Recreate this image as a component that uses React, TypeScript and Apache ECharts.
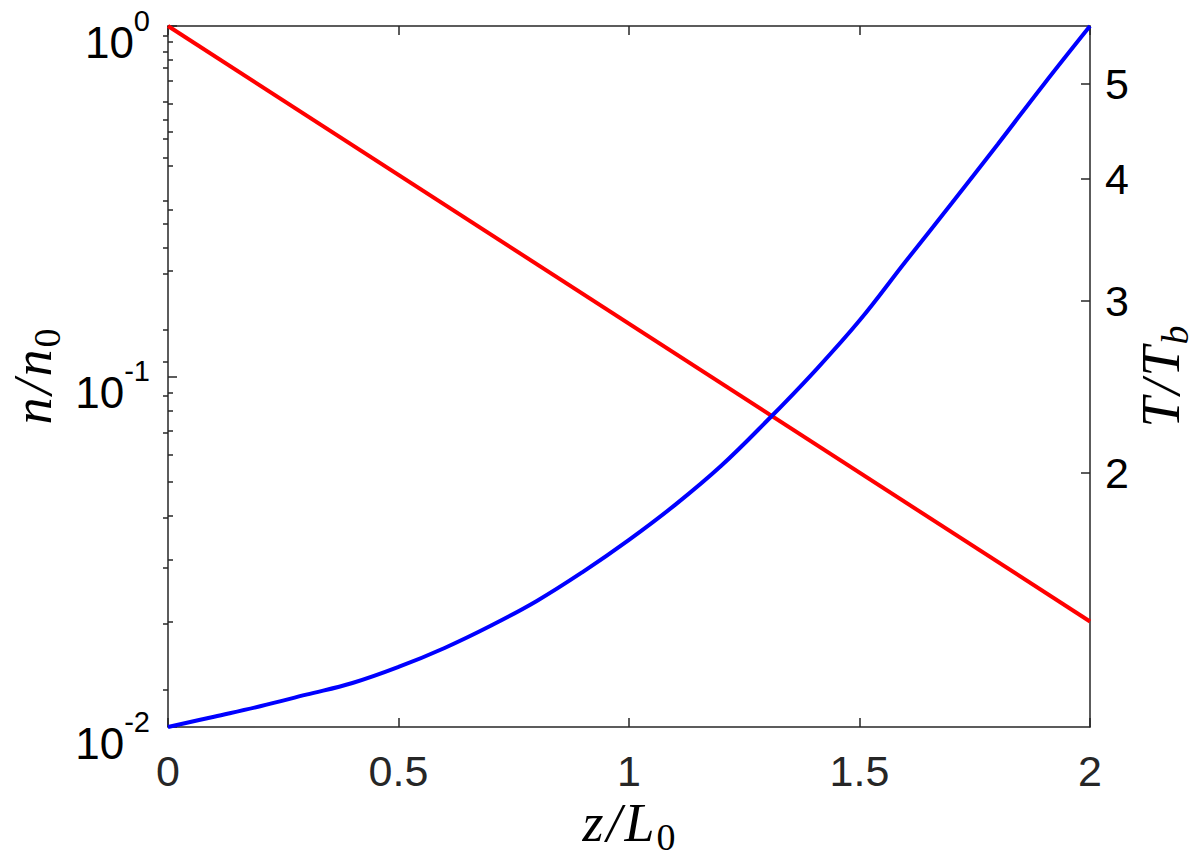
import React, { useEffect, useRef } from "react";
import * as echarts from "echarts";

// ---- data ----
const zTicks = [0, 0.5, 1, 1.5, 2];
const densityZ = [0, 2];
const densityN = [1, 0.02];
const tempZ = [0, 0.1, 0.2, 0.3, 0.4, 0.5, 0.6, 0.7, 0.8, 0.9, 1.0, 1.1, 1.2, 1.3, 1.4, 1.5, 1.6, 1.7, 1.8, 1.9, 2.0];
const tempT = [1.098, 1.125, 1.153, 1.185, 1.218, 1.265, 1.323, 1.394, 1.478, 1.583, 1.707, 1.854, 2.033, 2.262, 2.533, 2.863, 3.291, 3.775, 4.34, 5.0, 5.735];
const nMajorTicks = [0.01, 0.1, 1];
const nMinorTicks = [0.02, 0.03, 0.04, 0.05, 0.06, 0.07, 0.08, 0.09, 0.2, 0.3, 0.4, 0.5, 0.6, 0.7, 0.8, 0.9];
const tMajorTicks = [2, 3, 4, 5];
const tMinorTicks = [1.2, 1.4, 1.6, 1.8, 2.2, 2.4, 2.6, 2.8, 3.2, 3.4, 3.6, 3.8, 4.2, 4.4, 4.6, 4.8, 5.2, 5.4, 5.6];
const nRange = [0.01, 1];
const tRange = [1.098, 5.735];
const zRange = [0, 2];

const AX = "#262626";
const SANS = "'Liberation Sans', Arial, Helvetica, sans-serif";
const SERIF = "'Liberation Serif', 'Times New Roman', serif";

const lineStyle = { color: AX, width: 1.5 };

const nameRich = {
  i: { fontFamily: SERIF, fontStyle: "italic", fontSize: 54, lineHeight: 60, verticalAlign: "top", color: "#000" },
  s: { fontFamily: SERIF, fontStyle: "italic", fontSize: 54, lineHeight: 60, verticalAlign: "top", color: "#000", padding: [0, 3, 0, 3] },
  sub: { fontFamily: SERIF, fontSize: 38, lineHeight: 38, verticalAlign: "bottom", color: "#000", padding: [0, 0, 0, 2] },
  subi: { fontFamily: SERIF, fontStyle: "italic", fontSize: 38, lineHeight: 38, verticalAlign: "bottom", color: "#000", padding: [0, 0, 0, 2] },
};

export default function App() {
  const ref = useRef<HTMLDivElement>(null);
  useEffect(() => {
    if (!ref.current) return;
    const chart = echarts.init(ref.current, undefined, { renderer: "svg" });
    const option: any = {
      animation: false,
      backgroundColor: "#fff",
      grid: { left: 168, right: 110, top: 26, bottom: 135, containLabel: false, outerBoundsMode: "none" },
      xAxis: [
        {
          type: "value",
          min: zRange[0],
          max: zRange[1],
          interval: 0.5,
          position: "bottom",
          axisLine: { show: true, onZero: false, lineStyle },
          axisTick: { show: true, inside: true, length: 9, lineStyle, customValues: zTicks },
          axisLabel: { margin: 22, fontSize: 43, fontFamily: SANS, color: AX, customValues: zTicks },
          splitLine: { show: false },
          name: "{i|z}{s|/}{i|L}{sub|0}",
          nameLocation: "middle",
          nameGap: 69,
          nameMoveOverlap: false,
          nameTextStyle: { rich: nameRich },
        },
        {
          type: "value",
          min: zRange[0],
          max: zRange[1],
          interval: 0.5,
          position: "top",
          axisLine: { show: true, onZero: false, lineStyle },
          axisTick: { show: true, inside: true, length: 9, lineStyle },
          axisLabel: { show: false },
          splitLine: { show: false },
        },
      ],
      yAxis: [
        {
          type: "log",
          logBase: 10,
          min: nRange[0],
          max: nRange[1],
          position: "left",
          axisLine: { show: true, onZero: false, lineStyle },
          axisTick: { show: true, inside: true, length: 9, lineStyle, customValues: nMajorTicks },
          axisLabel: {
            customValues: nMajorTicks,
            margin: 18,
            padding: [18, 0, 0, 0],
            formatter: (v: number) => `{b|10}{e|${Math.round(Math.log10(v))}}`,
            rich: {
              b: { fontSize: 44, lineHeight: 58, verticalAlign: "bottom", fontFamily: SANS, color: "#000" },
              e: { fontSize: 29, lineHeight: 29, verticalAlign: "top", fontFamily: SANS, color: "#000" },
            },
          },
          splitLine: { show: false },
          minorTick: { show: false },
          name: "{i|n}{s|/}{i|n}{sub|0}",
          nameLocation: "middle",
          nameGap: 102,
          nameMoveOverlap: false,
          nameTextStyle: { rich: nameRich },
        },
        {
          type: "log",
          logBase: 10,
          min: tRange[0],
          max: tRange[1],
          position: "right",
          axisLine: { show: true, onZero: false, lineStyle },
          axisTick: { show: true, inside: true, length: 9, lineStyle, customValues: tMajorTicks },
          axisLabel: { customValues: tMajorTicks, margin: 15, fontSize: 43, fontFamily: SANS, color: "#000" },
          splitLine: { show: false },
          name: "{i|T}{s|/}{i|T}{subi|b}",
          nameLocation: "middle",
          nameGap: 44,
          nameMoveOverlap: false,
          nameTextStyle: { rich: nameRich },
        },
        {
          type: "log",
          logBase: 10,
          min: tRange[0],
          max: tRange[1],
          position: "right",
          axisLine: { show: false },
          axisTick: { show: true, inside: true, length: 5, lineStyle, customValues: tMinorTicks },
          axisLabel: { show: false },
          splitLine: { show: false },
        },
        {
          type: "log",
          logBase: 10,
          min: nRange[0],
          max: nRange[1],
          position: "left",
          axisLine: { show: false },
          axisTick: { show: true, inside: true, length: 5, lineStyle, customValues: nMinorTicks },
          axisLabel: { show: false },
          splitLine: { show: false },
        },
      ],
      series: [
        {
          name: "n/n0",
          type: "line",
          xAxisIndex: 0,
          yAxisIndex: 0,
          data: densityZ.map((z, i) => [z, densityN[i]]),
          showSymbol: false,
          symbol: "none",
          lineStyle: { color: "#ff0000", width: 4 },
          z: 3,
        },
        {
          name: "T/Tb",
          type: "line",
          xAxisIndex: 0,
          yAxisIndex: 1,
          data: tempZ.map((z, i) => [z, tempT[i]]),
          showSymbol: false,
          symbol: "none",
          smooth: 0.4,
          lineStyle: { color: "#0000ff", width: 4 },
          z: 4,
        },
      ],
    };
    chart.setOption(option);
    return () => chart.dispose();
  }, []);
  return (
    <div
      ref={ref}
      style={{ position: "fixed", left: 0, top: 0, width: 1200, height: 862, background: "#fff" }}
    />
  );
}
